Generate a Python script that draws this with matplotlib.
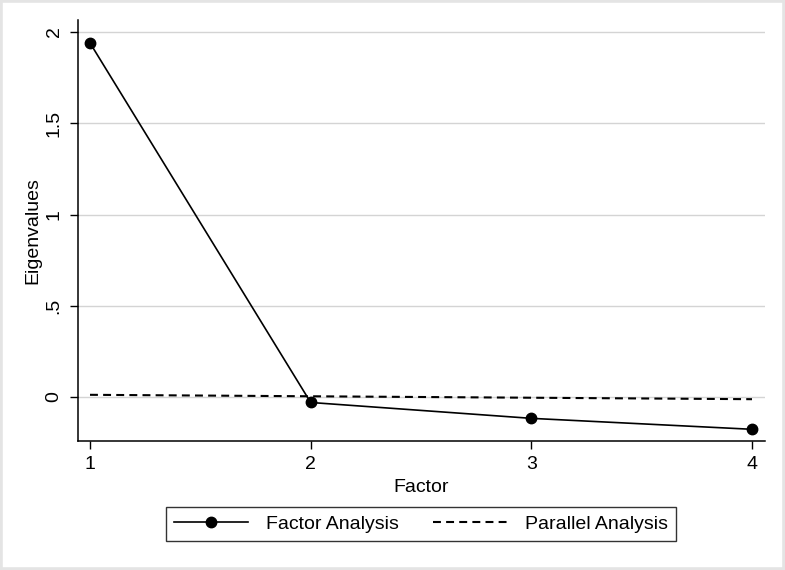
import matplotlib
matplotlib.use("Agg")
import matplotlib.pyplot as plt
from matplotlib.patches import Rectangle

plt.rcParams['font.family'] = ['Liberation Sans', 'DejaVu Sans']

factors = [1, 2, 3, 4]
factor_analysis = [1.94, -0.03, -0.117, -0.177]
parallel_analysis = [0.012, 0.004, -0.004, -0.012]
yticks = [0, 0.5, 1, 1.5, 2]
ytick_labels = ["0", ".5", "1", "1.5", "2"]

fig = plt.figure(figsize=(7.85, 5.7), dpi=100)
ax = fig.add_axes([78/785, 1-441/570, (765-78)/785, (441-20)/570])

ax.plot(factors, factor_analysis, color='black', lw=1.2, marker='o', ms=7.5,
        label='Factor Analysis', zorder=3)
ax.plot(factors, parallel_analysis, color='black', lw=1.5, dashes=(3.8, 2.5),
        label='Parallel Analysis', zorder=3)

ax.set_xlim(1 - 12/220.67, 4 + 13/220.67)
ax.set_ylim((397-441)/182.5, (397-20)/182.5)
ax.set_xticks(factors)
ax.set_yticks(yticks)
ax.set_yticklabels(ytick_labels, rotation=90, va='center')
ax.grid(axis='y', color='#d4d4d4', lw=1.0)
ax.set_axisbelow(True)
for s in ['top', 'right']:
    ax.spines[s].set_visible(False)
for s in ['left', 'bottom']:
    ax.spines[s].set_linewidth(1.1)
ax.tick_params(axis='both', direction='out', length=6, width=1.0, labelsize=14, pad=5)
ax.set_xlabel('Factor', fontsize=14, labelpad=4)
ax.set_ylabel('Eigenvalues', fontsize=14, labelpad=3)

leg = fig.legend(loc='center', bbox_to_anchor=(421/785, 1-524/570), ncol=2,
                 fontsize=14, frameon=True, fancybox=False, edgecolor='black',
                 handlelength=3.8, handletextpad=0.9, columnspacing=1.8,
                 borderpad=0.4)
leg.get_frame().set_linewidth(1.0)

fig.patches.append(Rectangle((0, 0), 1, 1, transform=fig.transFigure,
                             fill=False, edgecolor='#e4e4e4', lw=4, zorder=10))

fig.savefig('out.png', dpi=100)
